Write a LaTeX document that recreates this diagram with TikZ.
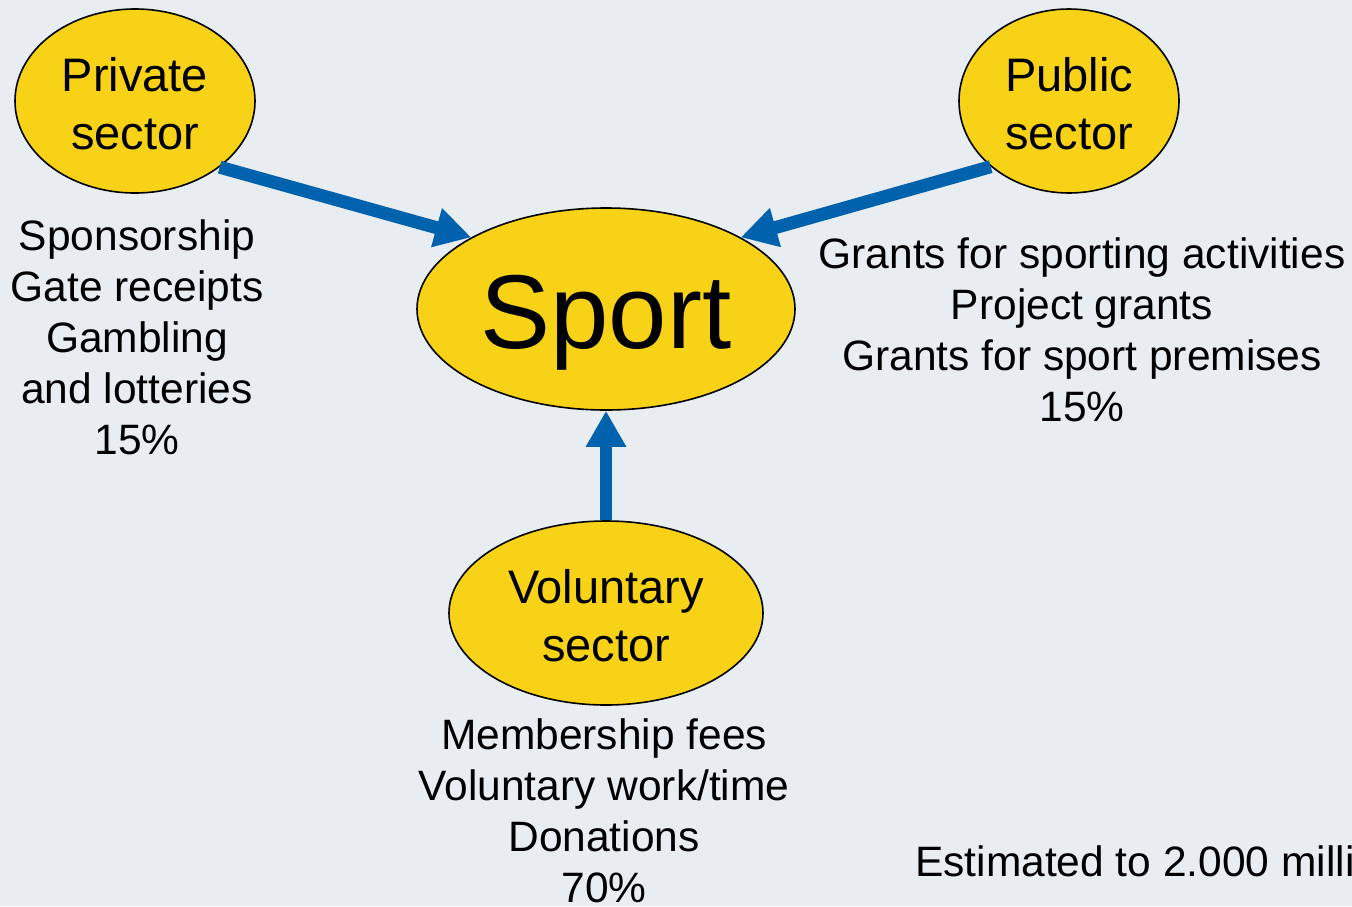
\documentclass[tikz,border=0pt]{standalone}
\usepackage{fontspec}
\setmainfont{Liberation Sans}
\usetikzlibrary{shapes.geometric,arrows.meta}
\definecolor{bgc}{HTML}{E7EDF0}
\definecolor{secyellow}{HTML}{F8D216}
\definecolor{arrblue}{HTML}{0062AC}
\tikzset{
  sector/.style={ellipse,draw=black,line width=1.6pt,fill=secyellow,inner sep=0pt,align=center,
    font=\fontsize{47}{58}\selectfont},
  info/.style={align=center,font=\fontsize{42.5}{51}\selectfont,inner sep=0pt},
  flow/.style={draw=arrblue,line width=13pt,-{Triangle[length=36pt,width=38pt]}}
}
\begin{document}
\begin{tikzpicture}[x=1pt,y=-1pt]
\clip (0,0) rectangle (1352,906);
\fill[bgc] (0,0) rectangle (1352,906);
\useasboundingbox (0,0) rectangle (1352,906);
\node[sector,minimum width=240pt,minimum height=184pt] (priv) at (135,101) {};
\node[sector,minimum width=220pt,minimum height=184pt] (pub) at (1069,101) {};
\node[sector,minimum width=378pt,minimum height=202pt] (sport) at (606,309) {};
\node[sector,minimum width=314pt,minimum height=184pt] (vol) at (606,613) {};
\node[align=center,font=\fontsize{47}{58}\selectfont,inner sep=0pt] (privlbl) at (135,104) {Private\\sector};
\node[align=center,font=\fontsize{47}{58}\selectfont,inner sep=0pt] (publbl) at (1069,104) {Public\\sector};
\node[font=\fontsize{105}{110}\selectfont,inner sep=0pt] (sportlbl) at (606,323) {Sport};
\node[align=center,font=\fontsize{47}{58}\selectfont,inner sep=0pt] (vollbl) at (606,616) {Voluntary\\sector};
\node[info] (privtxt) at (137,337) {Sponsorship\\Gate receipts\\Gambling\\and lotteries\\15\%};
\node[info] (pubtxt) at (1082,330) {Grants for sporting activities\\Project grants\\Grants for sport premises\\15\%};
\node[info] (voltxt) at (604,811) {Membership fees\\Voluntary work/time\\Donations\\70\%};
\node[info,anchor=west] (est) at (915,861) {Estimated to 2.000 milli};
\draw[flow] (priv.-38) -- (sport.152);
\draw[flow] (pub.-140) -- (sport.28);
\draw[flow,line width=12pt] (vol.north) -- (sport.south);
\end{tikzpicture}
\end{document}
